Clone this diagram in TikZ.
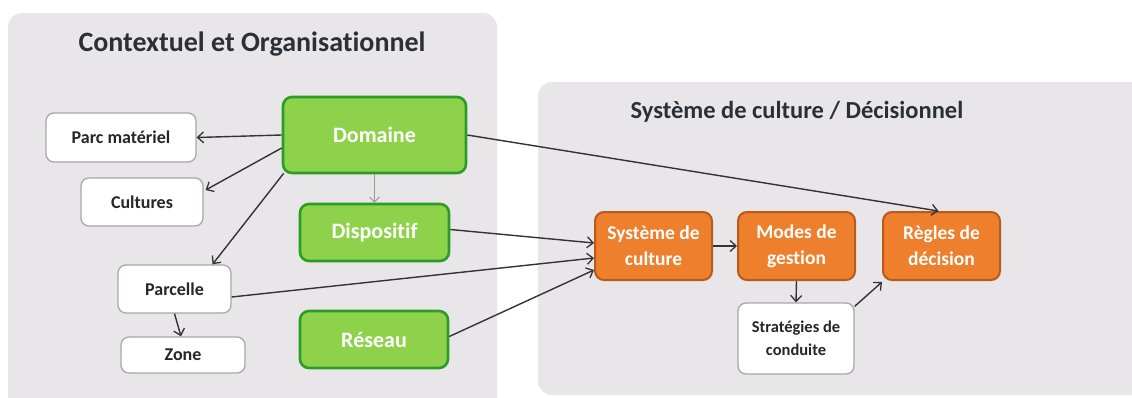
\documentclass[tikz,border=0pt]{standalone}
\usepackage{fontspec}
\setmainfont{Carlito}[Ligatures={NoCommon,NoContextual,NoRequired,NoDiscretionary}]
\usetikzlibrary{arrows.meta,calc}
\definecolor{panel}{HTML}{E8E6E8}
\definecolor{gfill}{HTML}{8ED24C}
\definecolor{gdraw}{HTML}{2E9A28}
\definecolor{ofill}{HTML}{EE7F2C}
\definecolor{odraw}{HTML}{B85A1E}
\definecolor{wdraw}{HTML}{A8A8A8}
\definecolor{txt}{HTML}{262626}
\definecolor{ttl}{HTML}{2B3038}
\definecolor{arr}{HTML}{333333}
\tikzset{
  panelbox/.style={fill=panel, draw=none, rounded corners=14pt},
  greenbox/.style={fill=gfill, draw=gdraw, line width=2.6pt, rounded corners=9pt, text=white, font=\bfseries\fontsize{22}{24}\selectfont, align=center, inner sep=0pt},
  orangebox/.style={fill=ofill, draw=odraw, line width=2pt, rounded corners=9pt, text=white, font=\bfseries\fontsize{19.5}{26}\selectfont, align=center, inner sep=0pt},
  whitebox/.style={fill=white, draw=wdraw, line width=1.3pt, rounded corners=8pt, text=txt, font=\bfseries\fontsize{18}{22}\selectfont, align=center, inner sep=0pt},
  titletext/.style={text=ttl, font=\bfseries\fontsize{28}{32}\selectfont},
  conn/.style={draw=arr, line width=1.4pt, -{Straight Barb[length=6pt,width=11pt,line width=1.3pt]}},
  thinconn/.style={draw=gray!80, line width=1pt, -{Straight Barb[length=5pt,width=10pt,line width=1pt]}}
}
\begin{document}
\begin{tikzpicture}[x=1pt,y=-1pt]
\useasboundingbox (0,0) rectangle (1132,397);
\fill[white] (0,0) rectangle (1132,397);
% panels
\fill[panelbox] (8,13) rectangle (497,410);
\fill[panelbox] (538,82) rectangle (1150,395);
\node[titletext] (t1) at (252,44) {Contextuel et Organisationnel};
\node[titletext, font=\bfseries\fontsize{24.5}{28}\selectfont] (t2) at (797,112) {Système de culture / Décisionnel};
% left nodes
\node[greenbox, minimum width=183pt, minimum height=76pt] (dom) at (374.5,135) {Domaine};
\node[greenbox, minimum width=149pt, minimum height=57pt] (dis) at (374.5,232.5) {Dispositif};
\node[greenbox, minimum width=148pt, minimum height=57pt] (res) at (374,339.5) {Réseau};
\node[whitebox, minimum width=150pt, minimum height=49pt] (parc) at (121,137.5) {Parc matériel};
\node[whitebox, minimum width=122pt, minimum height=48pt] (cult) at (142,202) {Cultures};
\node[whitebox, minimum width=113pt, minimum height=48pt] (parl) at (174.5,289) {Parcelle};
\node[whitebox, minimum width=124pt, minimum height=36pt] (zone) at (183,355) {Zone};
% right nodes
\node[orangebox, minimum width=117pt, minimum height=68pt] (sdc) at (653.5,246) {Système de\\culture};
\node[orangebox, minimum width=117pt, minimum height=68pt] (mdg) at (796.5,246) {Modes de\\gestion};
\node[orangebox, minimum width=117pt, minimum height=68pt] (rdd) at (941.5,246) {Règles de\\décision};
\node[whitebox, minimum width=116pt, minimum height=71pt, font=\bfseries\fontsize{16.5}{23}\selectfont] (sdcd) at (796,338.5) {Stratégies de\\conduite};
% connectors
\draw[conn] (dom.west) -- (parc.east);
\draw[conn] ($(dom.west)+(0,13)$) -- ($(cult.east)+(2,-12)$);
\draw[conn] ($(dom.south west)+(2,-1)$) -- ($(parl.north)+(38,0)$);
\draw[thinconn] (dom.south) -- (dis.north);
\draw[conn] (parl.south) -- ($(zone.north)+(-2,0)$);
\draw[conn] (dom.east) -- ($(rdd.north)+(-3,0)$);
\draw[conn] ($(dis.east)+(0,-3)$) -- ($(sdc.west)+(0,-3)$);
\draw[conn] ($(parl.east)+(0,8)$) -- ($(sdc.west)+(0,12)$);
\draw[conn] ($(res.east)+(0,-3)$) -- ($(sdc.west)+(0,24)$);
\draw[conn] (sdc.east) -- (mdg.west);
\draw[conn] (mdg.south) -- (sdcd.north);
\draw[conn] ($(sdcd.north east)+(0,4)$) -- ($(rdd.south west)+(0,1)$);
\end{tikzpicture}
\end{document}
